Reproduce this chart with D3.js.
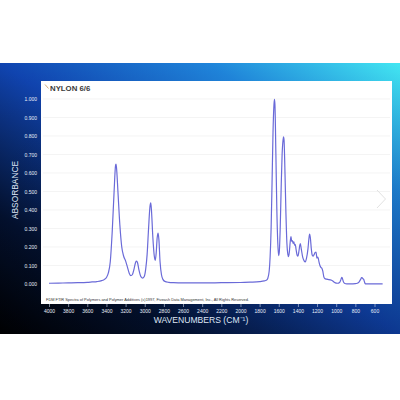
<!DOCTYPE html>
<html><head><meta charset="utf-8">
<script src="https://cdn.jsdelivr.net/npm/d3@7"></script>
<style>html,body{margin:0;padding:0;background:#fff;}svg{display:block;}</style>
</head><body>
<svg id="c" width="400" height="400"></svg>
<script>
const title = "NYLON 6/6";
const xLabel = "WAVENUMBERS (CM\u207B\u00B9)";
const yLabel = "ABSORBANCE";
const credit = "FDM FTIR Spectra of Polymers and Polymer Additives (c)1997, Fiveash Data Management, Inc., All Rights Reserved.";
const xTicks = [4000,3800,3600,3400,3200,3000,2800,2600,2400,2200,2000,1800,1600,1400,1200,1000,800,600];
const yTicks = [0,0.1,0.2,0.3,0.4,0.5,0.6,0.7,0.8,0.9,1.0];
const wavenumbers = [4000,3900,3800,3700,3600,3550,3500,3450,3420,3400,3380,3360,3340,3320,3305,3300,3295,3280,3260,3240,3220,3200,3180,3160,3145,3130,3110,3095,3085,3075,3060,3040,3020,3005,2990,2975,2960,2945,2937,2930,2915,2900,2890,2880,2870,2860,2852,2840,2825,2810,2790,2750,2700,2600,2400,2200,2000,1900,1800,1750,1730,1715,1700,1690,1680,1670,1660,1650,1645,1640,1630,1620,1610,1602,1595,1585,1575,1565,1555,1550,1545,1535,1525,1515,1505,1498,1490,1480,1472,1465,1458,1450,1442,1435,1428,1420,1408,1400,1390,1380,1374,1365,1350,1335,1323,1310,1295,1285,1278,1270,1260,1250,1240,1230,1220,1210,1202,1195,1188,1180,1170,1160,1150,1140,1130,1120,1100,1080,1060,1040,1020,1000,985,965,950,942,935,925,910,890,850,800,780,760,745,735,728,720,712,705,698,690,650,600,560,515];
const absorbance = [0.004,0.005,0.006,0.007,0.009,0.011,0.013,0.018,0.025,0.035,0.06,0.12,0.28,0.50,0.64,0.648,0.63,0.50,0.32,0.20,0.15,0.125,0.09,0.055,0.045,0.05,0.085,0.118,0.124,0.115,0.075,0.04,0.032,0.04,0.08,0.16,0.30,0.42,0.438,0.40,0.25,0.15,0.128,0.17,0.25,0.275,0.24,0.12,0.05,0.025,0.014,0.009,0.007,0.006,0.006,0.007,0.008,0.010,0.013,0.017,0.020,0.030,0.07,0.15,0.30,0.55,0.82,0.97,0.998,0.97,0.70,0.40,0.22,0.153,0.17,0.30,0.52,0.70,0.78,0.796,0.78,0.60,0.38,0.22,0.16,0.148,0.17,0.23,0.256,0.23,0.235,0.22,0.228,0.21,0.215,0.19,0.155,0.15,0.175,0.21,0.218,0.19,0.145,0.125,0.12,0.14,0.19,0.245,0.27,0.25,0.19,0.155,0.15,0.16,0.17,0.172,0.14,0.145,0.14,0.12,0.10,0.09,0.085,0.07,0.04,0.03,0.026,0.024,0.022,0.018,0.010,0.005,0.004,0.008,0.025,0.036,0.030,0.012,0.003,0.001,0.001,0.002,0.004,0.012,0.025,0.034,0.033,0.028,0.024,0.012,0.003,0.001,0.001,0.001,0.001,0.001];

const svg = d3.select("#c");
const defs = svg.append("defs");
const g1 = defs.append("linearGradient").attr("id","bg").attr("x1",0).attr("y1",1).attr("x2",1).attr("y2",0);
[[0,"#000002"],[0.22,"#031232"],[0.5,"#1044b0"],[0.76,"#1f84da"],[1,"#42e6f2"]].forEach(s=>g1.append("stop").attr("offset",s[0]).attr("stop-color",s[1]));
const g2 = defs.append("linearGradient").attr("id","sh").attr("x1",0).attr("y1",0).attr("x2",0).attr("y2",1);
[[0,"#000",0],[1,"#000",0.18]].forEach(s=>g2.append("stop").attr("offset",s[0]).attr("stop-color",s[1]).attr("stop-opacity",s[2]));

svg.append("rect").attr("x",0).attr("y",63).attr("width",400).attr("height",271).attr("fill","url(#bg)");
svg.append("rect").attr("x",0).attr("y",63).attr("width",400).attr("height",271).attr("fill","url(#sh)");

// panel
const P = {l:41, r:392, t:81, b:304};
svg.append("rect").attr("x",P.l).attr("y",P.t).attr("width",P.r-P.l).attr("height",P.b-P.t).attr("fill","#fff");

const x = d3.scaleLinear().domain([4000,600]).range([49,374.5]);
const y = d3.scaleLinear().domain([0,1]).range([284,99]);

// grid
svg.append("g").selectAll("line").data(yTicks.slice(1)).join("line")
  .attr("x1",P.l+2).attr("x2",P.r-2).attr("y1",d=>y(d)).attr("y2",d=>y(d))
  .attr("stroke","#ececec").attr("stroke-width",0.6);

// y axis labels
const ya = svg.append("g").attr("transform","translate(37,0)")
  .call(d3.axisLeft(y).tickValues(yTicks).tickFormat(d3.format(".3f")).tickSize(0).tickPadding(0));
ya.select(".domain").remove();
ya.selectAll("text").attr("fill","#e8eef8").attr("font-size",5).attr("font-family","Liberation Sans, Arial, sans-serif");

// x axis
const xa = svg.append("g").attr("transform",`translate(0,${P.b})`)
  .call(d3.axisBottom(x).tickValues(xTicks).tickFormat(d3.format("d")).tickSize(3).tickPadding(2));
xa.select(".domain").remove();
xa.selectAll("line").attr("stroke","#cfd8ea").attr("stroke-width",0.6);
xa.selectAll("text").attr("fill","#e8eef8").attr("font-size",5).attr("font-family","Liberation Sans, Arial, sans-serif");

// spectrum
const data = wavenumbers.map((w,i)=>({w, a:absorbance[i]}));
svg.append("path").datum(data)
  .attr("d", d3.line().x(d=>x(d.w)).y(d=>y(d.a)).curve(d3.curveMonotoneX))
  .attr("fill","none").attr("stroke","#6a6ad8").attr("stroke-width",1.2).attr("stroke-linejoin","round");

// title
svg.append("line").attr("x1",45).attr("y1",84.5).attr("x2",48.5).attr("y2",88.5).attr("stroke","#c8a070").attr("stroke-width",0.9);
svg.append("text").attr("x",50).attr("y",90.5).text(title)
  .attr("font-family","Liberation Sans, Arial, sans-serif").attr("font-size",7.8).attr("fill","#3a3a3a").attr("font-weight","600");

// credit
svg.append("text").attr("x",46).attr("y",300.5).text(credit)
  .attr("font-family","Liberation Sans, Arial, sans-serif").attr("font-size",4.2).attr("fill","#333")
  .attr("textLength",203).attr("lengthAdjust","spacingAndGlyphs");

// axis titles
svg.append("text").attr("x",201).attr("y",322.5).attr("text-anchor","middle").text(xLabel)
  .attr("font-family","Liberation Sans, Arial, sans-serif").attr("font-size",8.6).attr("fill","#dfe6f5");
svg.append("text").attr("transform","translate(18,190) rotate(-90)").attr("text-anchor","middle").text(yLabel)
  .attr("font-family","Liberation Sans, Arial, sans-serif").attr("font-size",8.4).attr("fill","#dfe6f5");

// chevron
svg.append("polyline").attr("points","377,190 385.5,199 377,208").attr("fill","none").attr("stroke","#e2e2e2").attr("stroke-width",1);
</script>
</body></html>
